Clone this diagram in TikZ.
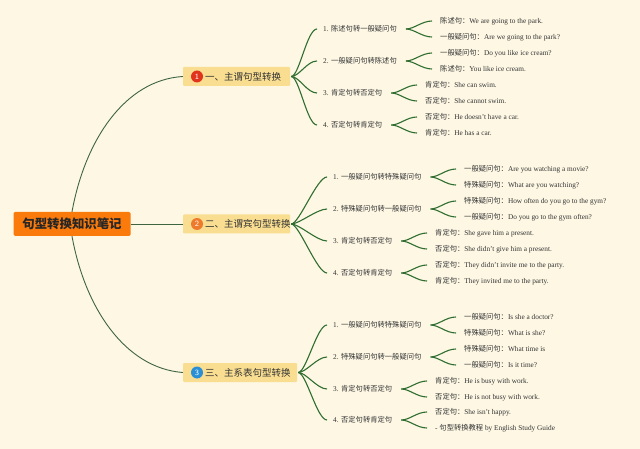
\documentclass[tikz,border=0pt]{standalone}
\usepackage{fontspec}
\setmainfont{Liberation Serif}
\newfontfamily\cjk{Noto Sans CJK SC}
\newcommand\zh[1]{{\cjk #1}}
\definecolor{bgcream}{HTML}{FDF7E4}
\definecolor{rootorange}{HTML}{FA7A0C}
\definecolor{secgold}{HTML}{F9DE92}
\definecolor{mainline}{HTML}{3F6440}
\definecolor{fanline}{HTML}{2F6E30}
\definecolor{txt}{HTML}{333333}
\definecolor{cred}{HTML}{E0341C}
\definecolor{corange}{HTML}{EE7A2C}
\definecolor{cblue}{HTML}{2B8FD6}
\tikzset{
  rootbox/.style={fill=rootorange, rounded corners=1.5pt, minimum width=117pt, minimum height=24pt, inner sep=0pt,
    text=black!85, font=\cjk\bfseries\fontsize{12.4}{14}\selectfont},
  secbox/.style={fill=secgold, rounded corners=1pt, minimum height=19pt, inner sep=0pt},
  secnum/.style={circle, minimum size=12pt, inner sep=0pt, text=white, font=\sffamily\fontsize{8}{9}\selectfont},
  sectext/.style={anchor=west, inner sep=0pt, text=txt, font=\cjk\fontsize{9.5}{11}\selectfont},
  subtext/.style={anchor=west, inner sep=0pt, text=txt, font=\fontsize{7.3}{9}\selectfont},
  leaftext/.style={anchor=west, inner sep=0pt, text=txt, font=\fontsize{7.3}{9}\selectfont},
  mainconn/.style={draw=mainline, line width=0.9pt},
  fanconn/.style={draw=fanline, line width=1.1pt},
}
\begin{document}
\begin{tikzpicture}[x=1pt,y=-1pt]
\fill[bgcream] (0,0) rectangle (640,449);
\useasboundingbox (0,0) rectangle (640,449);

% root
\node[rootbox] (root) at (72,224) {句型转换知识笔记};

% sections
\node[secbox, minimum width=107pt] (s1) at (236.5,76.5) {};
\node[secnum, fill=cred] (c1) at (197,76.5) {1};
\node[sectext] (t1) at (205,76.5) {一、主谓句型转换};

\node[secbox, minimum width=107pt] (s2) at (236.5,224) {};
\node[secnum, fill=corange] (c2) at (197,224) {2};
\node[sectext] (t2) at (205,224) {二、主谓宾句型转换};

\node[secbox, minimum width=114pt] (s3) at (240,372.5) {};
\node[secnum, fill=cblue] (c3) at (197,372.5) {3};
\node[sectext] (t3) at (205,372.5) {三、主系表句型转换};

% root connectors
\draw[mainconn] (root.north) .. controls (85,140) and (125,80) .. (s1.west);
\draw[mainconn] (root.east) -- (s2.west);
\draw[mainconn] (root.south) .. controls (85,308) and (125,368) .. (s3.west);

% section 1 subs
\node[subtext] (s1a) at (323,29) {1. \zh{陈述句转一般疑问句}};
\node[subtext] (s1b) at (323,61) {2. \zh{一般疑问句转陈述句}};
\node[subtext] (s1c) at (323,93) {3. \zh{肯定句转否定句}};
\node[subtext] (s1d) at (323,125) {4. \zh{否定句转肯定句}};

\node[leaftext] (s1a1) at (440,21) {\zh{陈述句：}We are going to the park.};
\node[leaftext] (s1a2) at (440,37) {\zh{一般疑问句：}Are we going to the park?};
\node[leaftext] (s1b1) at (440,53) {\zh{一般疑问句：}Do you like ice cream?};
\node[leaftext] (s1b2) at (440,69) {\zh{陈述句：}You like ice cream.};
\node[leaftext] (s1c1) at (425,85) {\zh{肯定句：}She can swim.};
\node[leaftext] (s1c2) at (425,101) {\zh{否定句：}She cannot swim.};
\node[leaftext] (s1d1) at (425,117) {\zh{否定句：}He doesn't have a car.};
\node[leaftext] (s1d2) at (425,133) {\zh{肯定句：}He has a car.};

% section 2 subs
\node[subtext] (s2a) at (333,177) {1. \zh{一般疑问句转特殊疑问句}};
\node[subtext] (s2b) at (333,209) {2. \zh{特殊疑问句转一般疑问句}};
\node[subtext] (s2c) at (333,241) {3. \zh{肯定句转否定句}};
\node[subtext] (s2d) at (333,273) {4. \zh{否定句转肯定句}};

\node[leaftext] (s2a1) at (464,169) {\zh{一般疑问句：}Are you watching a movie?};
\node[leaftext] (s2a2) at (464,185) {\zh{特殊疑问句：}What are you watching?};
\node[leaftext] (s2b1) at (464,201) {\zh{特殊疑问句：}How often do you go to the gym?};
\node[leaftext] (s2b2) at (464,217) {\zh{一般疑问句：}Do you go to the gym often?};
\node[leaftext] (s2c1) at (435,233) {\zh{肯定句：}She gave him a present.};
\node[leaftext] (s2c2) at (435,249) {\zh{否定句：}She didn't give him a present.};
\node[leaftext] (s2d1) at (435,265) {\zh{否定句：}They didn't invite me to the party.};
\node[leaftext] (s2d2) at (435,281) {\zh{肯定句：}They invited me to the party.};

% section 3 subs
\node[subtext] (s3a) at (333,325) {1. \zh{一般疑问句转特殊疑问句}};
\node[subtext] (s3b) at (333,357) {2. \zh{特殊疑问句转一般疑问句}};
\node[subtext] (s3c) at (333,389) {3. \zh{肯定句转否定句}};
\node[subtext] (s3d) at (333,420) {4. \zh{否定句转肯定句}};

\node[leaftext] (s3a1) at (464,317) {\zh{一般疑问句：}Is she a doctor?};
\node[leaftext] (s3a2) at (464,333) {\zh{特殊疑问句：}What is she?};
\node[leaftext] (s3b1) at (464,349) {\zh{特殊疑问句：}What time is};
\node[leaftext] (s3b2) at (464,365) {\zh{一般疑问句：}Is it time?};
\node[leaftext] (s3c1) at (435,381) {\zh{肯定句：}He is busy with work.};
\node[leaftext] (s3c2) at (435,397) {\zh{否定句：}He is not busy with work.};
\node[leaftext] (s3d1) at (435,412) {\zh{否定句：}She isn't happy.};
\node[leaftext] (s3d2) at (435,428) {- \zh{句型转换教程} by English Study Guide};

% section -> sub fans
\foreach \s/\sub in {s1/s1a,s1/s1b,s1/s1c,s1/s1d,s2/s2a,s2/s2b,s2/s2c,s2/s2d,s3/s3a,s3/s3b,s3/s3c,s3/s3d}{
  \draw[fanconn] ([xshift=1pt]\s.east) .. controls +(8,0) and +(-10,0) .. ([xshift=-6pt]\sub.west);
}
% sub -> leaf fans
\foreach \sub in {s1a,s1b,s1c,s1d,s2a,s2b,s2c,s2d,s3a,s3b,s3c,s3d}{
  \draw[fanconn] ([xshift=9pt]\sub.east) .. controls +(8,0) and +(-10,0) .. ([xshift=-8pt]\sub1.west);
  \draw[fanconn] ([xshift=9pt]\sub.east) .. controls +(8,0) and +(-10,0) .. ([xshift=-8pt]\sub2.west);
}
\end{tikzpicture}
\end{document}
